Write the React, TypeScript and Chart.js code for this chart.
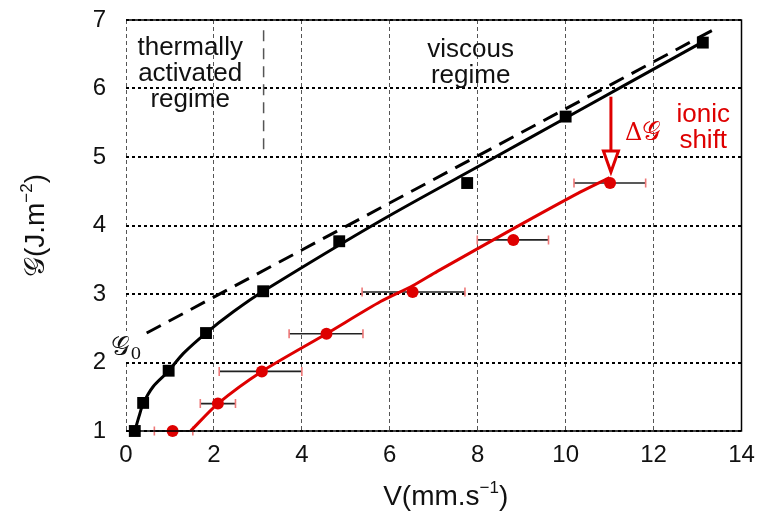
import { useEffect, useRef } from "react";
import { Chart, registerables } from "chart.js";
Chart.register(...registerables);

// ---- data ----
const xTicks = [0, 2, 4, 6, 8, 10, 12, 14];
const yTicks = [1, 2, 3, 4, 5, 6, 7];

// neutral (black squares)
const blackV = [0.2, 0.39, 0.97, 1.82, 3.12, 4.85, 7.76, 10.0, 13.12];
const blackG = [1.0, 1.41, 1.88, 2.43, 3.04, 3.77, 4.62, 5.59, 6.67];

// ionic (red circles) with horizontal error bars
const redV = [1.06, 2.09, 3.09, 4.56, 6.52, 8.81, 11.01];
const redG = [1.0, 1.4, 1.87, 2.42, 3.03, 3.79, 4.62];
const redVLow = [0.645, 1.69, 2.12, 3.71, 5.37, 7.99, 10.19];
const redVHigh = [1.52, 2.49, 4.0, 5.39, 7.71, 9.61, 11.82];

// fitted curves
const blackFitV = [0.2, 0.3, 0.39, 0.62, 0.96, 1.3, 1.82, 2.44, 3.12, 5.79, 8.29, 10.0, 13.12];
const blackFitG = [1.0, 1.22, 1.4, 1.65, 1.87, 2.13, 2.43, 2.74, 3.04, 4.07, 4.96, 5.57, 6.68];
const redFitV = [1.47, 2.09, 3.09, 4.56, 5.79, 6.52, 7.08, 8.8, 10.34, 11.0];
const redFitG = [1.0, 1.4, 1.87, 2.42, 2.89, 3.12, 3.33, 3.95, 4.49, 4.7];

// viscous asymptote (dashed)
const asymV = [0.47, 13.34];
const asymG = [2.43, 6.85];

// regime boundary
const boundV = [3.13, 3.13];
const boundG = [5.03, 6.85];

// ionic shift arrow
const arrowV = [11.03, 11.03];
const arrowG = [5.88, 4.78];

const RED = "rgb(222,0,0)";
const CAP = "rgb(238,120,120)";
const SANS = "'Liberation Sans', Arial, Helvetica, sans-serif";

type Part = { t: string; size: number; dy?: number; family?: string; style?: string };

function richWidth(ctx: CanvasRenderingContext2D, parts: Part[]) {
  let w = 0;
  for (const p of parts) {
    ctx.font = `${p.style || ""} ${p.size}px ${p.family || SANS}`;
    w += ctx.measureText(p.t).width;
  }
  return w;
}

function drawRich(ctx: CanvasRenderingContext2D, parts: Part[], x: number, y: number, align: "left" | "center") {
  const w = richWidth(ctx, parts);
  let cx = align === "center" ? x - w / 2 : x;
  ctx.textAlign = "left";
  ctx.textBaseline = "alphabetic";
  for (const p of parts) {
    ctx.font = `${p.style || ""} ${p.size}px ${p.family || SANS}`;
    ctx.fillText(p.t, cx, y + (p.dy || 0));
    cx += ctx.measureText(p.t).width;
  }
}

const toPts = (xs: number[], ys: number[]) => xs.map((x, i) => ({ x, y: ys[i] }));

const decorPlugin = {
  id: "decor",
  beforeDatasetsDraw(chart: any) {
    const { ctx, scales } = chart;
    const xs = scales.x, ys = scales.y;
    ctx.save();
    // regime boundary
    ctx.strokeStyle = "#555";
    ctx.lineWidth = 1.5;
    ctx.setLineDash([11, 7]);
    ctx.beginPath();
    ctx.moveTo(xs.getPixelForValue(boundV[0]), ys.getPixelForValue(boundG[1]));
    ctx.lineTo(xs.getPixelForValue(boundV[1]), ys.getPixelForValue(boundG[0]));
    ctx.stroke();
    ctx.setLineDash([]);
    // error bars
    for (let i = 0; i < redV.length; i++) {
      const y = ys.getPixelForValue(redG[i]);
      const x1 = xs.getPixelForValue(redVLow[i]);
      const x2 = xs.getPixelForValue(redVHigh[i]);
      ctx.strokeStyle = "#222";
      ctx.lineWidth = 1.6;
      ctx.beginPath();
      ctx.moveTo(x1, y);
      ctx.lineTo(x2, y);
      ctx.stroke();
      ctx.strokeStyle = CAP;
      ctx.lineWidth = 1.6;
      ctx.beginPath();
      ctx.moveTo(x1, y - 4.5);
      ctx.lineTo(x1, y + 4.5);
      ctx.moveTo(x2, y - 4.5);
      ctx.lineTo(x2, y + 4.5);
      ctx.stroke();
    }
    ctx.restore();
  },
  afterDatasetsDraw(chart: any) {
    const { ctx, scales, chartArea } = chart;
    const xs = scales.x, ys = scales.y;
    const X = (v: number) => xs.getPixelForValue(v);
    const Y = (v: number) => ys.getPixelForValue(v);
    ctx.save();
    // frame (top, right, bottom solid)
    ctx.strokeStyle = "#000";
    ctx.lineWidth = 1.5;
    ctx.beginPath();
    ctx.moveTo(chartArea.left, chartArea.top);
    ctx.lineTo(chartArea.right, chartArea.top);
    ctx.lineTo(chartArea.right, chartArea.bottom);
    ctx.lineTo(chartArea.left, chartArea.bottom);
    ctx.stroke();

    // arrow
    const ax = X(arrowV[0]);
    const ay1 = Y(arrowG[0]);
    const ay2 = Y(arrowG[1]);
    ctx.strokeStyle = RED;
    ctx.lineWidth = 3;
    ctx.beginPath();
    ctx.moveTo(ax, ay1);
    ctx.lineTo(ax, ay2 - 20);
    ctx.stroke();
    ctx.beginPath();
    ctx.moveTo(ax - 7.5, ay2 - 21);
    ctx.lineTo(ax + 7.5, ay2 - 21);
    ctx.lineTo(ax, ay2);
    ctx.closePath();
    ctx.fillStyle = "#fff";
    ctx.fill();
    ctx.lineJoin = "miter";
    ctx.stroke();

    // annotations
    ctx.fillStyle = "#111";
    const f = 26;
    drawRich(ctx, [{ t: "thermally", size: f }], X(1.46), Y(6.489), "center");
    drawRich(ctx, [{ t: "activated", size: f }], X(1.46), Y(6.109), "center");
    drawRich(ctx, [{ t: "regime", size: f }], X(1.46), Y(5.73), "center");
    drawRich(ctx, [{ t: "viscous", size: f }], X(7.84), Y(6.455), "center");
    drawRich(ctx, [{ t: "regime", size: f }], X(7.84), Y(6.076), "center");

    ctx.fillStyle = RED;
    drawRich(ctx, [{ t: "ionic", size: f }], X(13.13), Y(5.51), "center");
    drawRich(ctx, [{ t: "shift", size: f }], X(13.13), Y(5.13), "center");
    drawRich(
      ctx,
      [
        { t: "Δ", size: 24, family: "'DejaVu Serif', serif" },
        { t: "𝒢", size: 26, family: "'DejaVu Sans', serif" },
      ],
      X(11.35),
      Y(5.25),
      "left"
    );

    // G0 label with white background
    const gx = X(-0.33);
    const gy = Y(2.11);
    ctx.fillStyle = "#fff";
    ctx.fillRect(gx, gy - 24, 27, 30);
    ctx.fillStyle = "#111";
    drawRich(
      ctx,
      [
        { t: "𝒢", size: 26, family: "'DejaVu Sans', serif" },
        { t: "0", size: 17, dy: 4, family: "'DejaVu Serif', serif" },
      ],
      gx,
      gy,
      "left"
    );

    // axis titles
    drawRich(
      ctx,
      [
        { t: "V(mm.s", size: 28 },
        { t: "−1", size: 17, dy: -12 },
        { t: ")", size: 28 },
      ],
      (chartArea.left + chartArea.right) / 2 + 12,
      505,
      "center"
    );
    ctx.save();
    ctx.translate(44, (chartArea.top + chartArea.bottom) / 2);
    ctx.rotate(-Math.PI / 2);
    drawRich(
      ctx,
      [
        { t: "𝒢", size: 28, family: "'DejaVu Sans', serif" },
        { t: "(J.m", size: 28 },
        { t: "−2", size: 17, dy: -12 },
        { t: ")", size: 28 },
      ],
      0,
      0,
      "center"
    );
    ctx.restore();
    ctx.restore();
  },
};

export default function App() {
  const ref = useRef<HTMLCanvasElement | null>(null);
  useEffect(() => {
    if (!ref.current) return;
    const chart = new Chart(ref.current, {
      type: "scatter",
      data: {
        datasets: [
          {
            label: "ionic fit",
            data: toPts(redFitV, redFitG),
            showLine: true,
            borderColor: RED,
            borderWidth: 3,
            pointRadius: 0,
            tension: 0.25,
            order: 5,
          } as any,
          {
            label: "neutral fit",
            data: toPts(blackFitV, blackFitG),
            showLine: true,
            borderColor: "#000",
            borderWidth: 3,
            pointRadius: 0,
            tension: 0.3,
            order: 4,
          },
          {
            label: "viscous asymptote",
            data: toPts(asymV, asymG),
            showLine: true,
            borderColor: "#000",
            borderWidth: 3,
            borderDash: [16, 9],
            pointRadius: 0,
            order: 3,
          },
          {
            label: "neutral",
            data: toPts(blackV, blackG),
            pointStyle: "rect",
            pointRadius: 8.4,
            backgroundColor: "#000",
            borderColor: "#000",
            borderWidth: 0,
            showLine: false,
            clip: false,
            order: 2,
          },
          {
            label: "ionic",
            data: toPts(redV, redG),
            pointStyle: "circle",
            pointRadius: 6,
            backgroundColor: RED,
            borderColor: RED,
            borderWidth: 0,
            showLine: false,
            clip: false,
            order: 1,
          },
        ],
      },
      options: {
        animation: false,
        responsive: false,
        devicePixelRatio: 1,
        layout: { padding: { left: 0, right: 16.5, top: 20, bottom: 0 } },
        plugins: { legend: { display: false }, tooltip: { enabled: false } },
        scales: {
          x: {
            type: "linear",
            min: 0,
            max: 14,
            afterBuildTicks: (s: any) => {
              s.ticks = xTicks.map((v) => ({ value: v }));
            },
            afterFit: (s: any) => {
              s.height = 85;
              s.paddingLeft = 0;
              s.paddingRight = 0;
            },
            ticks: {
              color: "#111",
              font: { family: SANS, size: 24 },
              padding: 10,
            },
            grid: { color: "#555", lineWidth: 1, drawTicks: false },
            border: { display: false, dash: [4, 3] },
          },
          y: {
            type: "linear",
            min: 1,
            max: 7,
            afterBuildTicks: (s: any) => {
              s.ticks = yTicks.map((v) => ({ value: v }));
            },
            afterFit: (s: any) => {
              s.width = 126;
              s.paddingTop = 0;
              s.paddingBottom = 0;
            },
            ticks: {
              color: "#111",
              font: { family: SANS, size: 24 },
              padding: 20,
            },
            grid: { color: "#000", lineWidth: 2, drawTicks: false },
            border: { display: false, dash: [3, 3] },
          },
        },
      },
      plugins: [decorPlugin],
    });
    return () => chart.destroy();
  }, []);
  return (
    <div style={{ position: "fixed", left: 0, top: 0, width: 758, height: 516, background: "#fff" }}>
      <canvas ref={ref} width={758} height={516} style={{ display: "block" }} />
    </div>
  );
}
